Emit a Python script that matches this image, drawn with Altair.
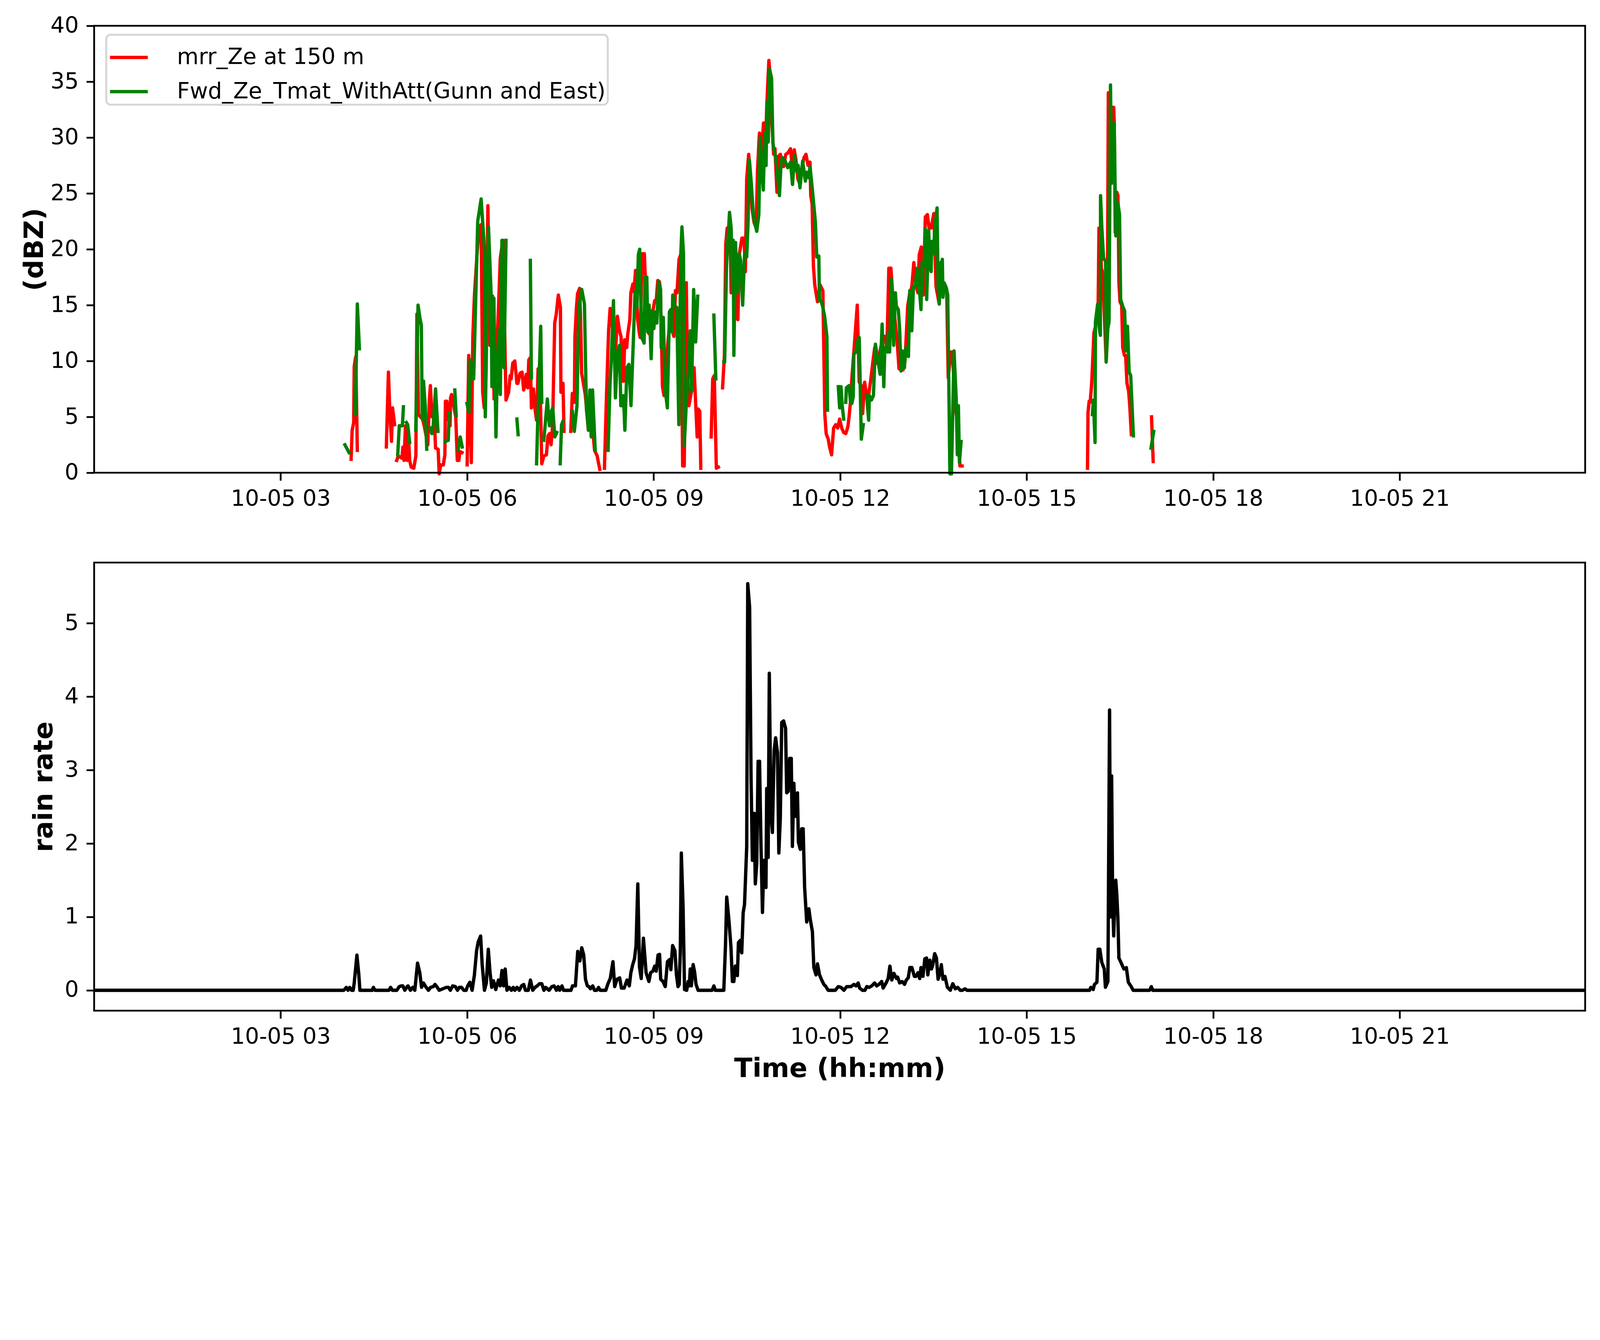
import altair as alt
import pandas as pd

# ---------------- data (minutes since 10-05 00:00) ----------------
series_names = ["mrr_Ze at 150 m", "Fwd_Ze_Tmat_WithAtt(Gunn and East)"]
series_colors = ["#ff0000", "#008000"]

tick_minutes = [180, 360, 540, 720, 900, 1080, 1260]
tick_labels = ["10-05 03", "10-05 06", "10-05 09", "10-05 12", "10-05 15", "10-05 18", "10-05 21"]

x_limits = [0, 1439]
ze_limits = [0, 40]
rain_limits = [-0.2775, 5.8275]
ze_ticks = [0, 5, 10, 15, 20, 25, 30, 35, 40]
rain_ticks = [0, 1, 2, 3, 4, 5]

mrr_minutes = [
    248, 249, 250.5, 251, 252.5, 254, None,
    282, 284, 285.5, 287, 288, 290, None,
    292, 293.5, 297, 298, 299, 300.5, 302, 303, 304.5, 306,
    308.5, 310.5, 311.5, 313, 315, 317, 319, 322, 323.5, 324.5,
    326, 328, 329.5, 332, 333, 334.5, 337, 338.5, 339, 340.5,
    342, 343.5, 344, 345, 347, 349, 350.5, 352, 353, 355, None,
    360, 361.5, 363, 364, 365.5, 367, 369.5, 371.5, 373.5, 375,
    376.5, 378, 380, 382, 384.5, 386, 388, 389.5, 392, 394.5,
    397.5, 400, 401.5, 402.5, 404, 406, 408, 409, 411, 413,
    414.5, 415.5, 417, 418.5, 419.5, 421, 422, 424, 425.5, 427,
    428.5, 430, 432, 434, 436.5, 438, 439.5, 441, 442.5, 444.5,
    446, 448, 450, 450.5, 452.5, 453.5, None,
    460, 461.5, 463.5, 464, 465.5, 466.5, 468.5, 469.5, 470.5, 472,
    474, 476, 477, 479, 481, 483, 485.5, 486.5, 488, None,
    492.5, 494.5, 496.5, 498, 499, 501, 503, 505, 507, 508.5,
    510, 511, 512, 514, 515, 517, 518, 520, 521, 522.5,
    524.5, 526, 527, 529, 531, 532.5, 534.5, 536, 537.5, 539.5,
    541, 542.5, 544, 545.5, 546.5, 547.5, 548.5, 550, 551, 552.5,
    554, 556, 558, 559.5, 561, 562.5, 564.5, 566, 568, 569.5,
    571.5, 572.5, 574, 577, 579, 582, 583, 584.5, 585.5, None,
    595.5, 597, 598.5, 600.5, 602.5, None,
    606.5, 608.3, 609.6, 611, 612.5, 614.2, 614.8, 616.8, 619.4, 621.3,
    622.6, 625.2, 627.2, 628.5, 629.8, 631.7, 633.7, 635, 636.9, 638.9,
    640.2, 642.1, 643.4, 646, 648, 649.3, 651.2, 652.5, 654, 655.8,
    657.1, 659, 660.3, 662.3, 664.2, 665.5, 667.5, 669.4, 672.1, 674,
    675.7, 677.3, 679.2, 681.2, 683.1, 685.1, 687, 689, 690.9, 691.6,
    692.9, 694.2, 695.5, 698.1, 700.7, 703.3, 705.2, 706.5, 708.5, 709.8,
    711.7, 713.7, 715.7, 717.6, 719.5, 721.5, 723.4, 725.4, 727.4, 728.6,
    730, 731.2, 733.2, 736.5, 738.4, 740.4, 741.7, 743.6, 745.6, 747.5,
    749.5, 751.4, 753.4, 755.3, 757.3, 759.2, 761.2, 763.1, 765.1, 767,
    769, 771, 772.9, 774.8, 776.8, 778.7, 780.7, 782.6, 785.2, 787.2,
    789.1, 791.1, 793.1, 795, 796.3, 798.3, 800.2, 802.2, 804.2, 805.8,
    807.8, 810.4, 812.5, 815.6, 817.1, 818.6, 820.2, 821.7, 822.8, 824.3,
    826.9, 828.4, 831, 832.5, 834.1, 835.6, 837.7, None,
    958.7, 959.2, 960.3, 961.3, 962.8, 964.9, 966.4, 969, 969.8, 971,
    972.1, 973.1, 975, 976.7, 977.8, 978.8, 980, 981.4, 982.9, 984,
    984.5, 985.5, 987, 988.1, 989.1, 990.1, 991.7, 992.7, 994.3, 995.5,
    996.8, 998.4, 999.5, 1001, None,
    1020.5, 1022.1,
]
mrr_dbz = [
    1.2, 3.8, 4.5, 9.5, 10.4, 2.0, None,
    2.3, 9.0, 5.2, 2.8, 5.8, 4.3, None,
    1.1, 1.5, 1.3, 2.3, 1.1, 4.2, 1.1, 4.0, 1.1, 0.5,
    0.4, 1.5, 14.2, 5.2, 5.0, 4.8, 4.0, 2.5, 6.5, 7.8,
    5.0, 5.5, 2.2, 2.1, -0.1, 0.7, 0.7, 1.6, 6.4, 6.4,
    4.7, 4.2, 6.7, 7.0, 6.0, 5.0, 1.1, 1.1, 1.9, 1.8, None,
    0.7, 10.5, 4.3, 0.9, 12.2, 15.8, 19.5, 22.0, 22.2, 7.2,
    5.8, 7.9, 23.9, 11.4, 15.8, 6.6, 11.1, 12.9, 19.2, 20.8,
    6.5, 7.2, 8.7, 8.4, 9.8, 10.0, 8.0, 8.0, 8.9, 9.0,
    7.4, 7.7, 8.8, 7.6, 10.1, 10.3, 5.8, 7.5, 5.7, 4.7,
    9.3, 9.4, 0.8, 1.5, 1.6, 3.3, 3.5, 2.5, 4.3, 13.4,
    14.2, 15.9, 14.8, 7.2, 8.0, 3.7, None,
    3.7, 7.1, 6.3, 12.1, 14.8, 16.0, 16.5, 13.7, 8.9, 8.1,
    7.0, 5.0, 3.8, 6.5, 4.0, 2.0, 1.5, 1.0, 0.3, None,
    0.4, 7.0, 12.7, 14.7, 14.6, 12.0, 10.5, 14.0, 12.7, 12.2,
    8.2, 8.2, 11.9, 11.2, 12.4, 13.7, 16.1, 16.9, 16.2, 18.1,
    13.8, 12.6, 12.1, 19.6, 19.6, 16.1, 12.6, 12.4, 14.4, 14.6,
    15.4, 15.4, 17.2, 17.1, 16.4, 12.2, 7.7, 6.9, 9.4, 10.2,
    11.9, 13.9, 12.7, 12.2, 16.3, 16.1, 19.1, 19.5, 0.6, 0.6,
    17.0, 9.4, 6.0, 7.5, 9.4, 3.2, 5.7, 5.5, 0.4, None,
    3.2, 8.4, 8.7, 0.4, 0.5, None,
    7.6, 10.5, 20.5, 21.9, 21.5, 19.7, 16.1, 20.5, 13.9, 13.7,
    19.5, 21.0, 21.0, 18.0, 26.3, 28.5, 25.8, 23.6, 22.4, 21.9,
    27.0, 30.4, 27.3, 31.3, 29.5, 33.1, 36.9, 35.5, 31.5, 28.5,
    29.0, 25.1, 28.3, 28.5, 27.5, 27.4, 28.5, 28.6, 29.0, 27.0,
    28.9, 28.0, 26.3, 25.8, 27.3, 28.2, 28.5, 27.5, 27.8, 24.8,
    24.1, 18.5, 16.8, 15.3, 16.8, 16.3, 5.2, 3.5, 3.0, 2.3,
    1.6, 4.0, 4.3, 4.0, 4.8, 4.0, 3.6, 3.5, 4.1, 5.0,
    6.4, 8.3, 10.8, 15.0, 8.1, 7.8, 5.3, 8.1, 6.9, 7.0,
    8.3, 9.8, 11.2, 9.8, 10.3, 11.2, 12.2, 12.2, 11.2, 18.3,
    18.3, 15.5, 13.7, 12.0, 9.3, 10.8, 9.2, 10.0, 14.9, 16.1,
    16.6, 18.8, 16.8, 16.1, 19.5, 20.2, 15.9, 22.9, 23.1, 21.9,
    21.9, 23.2, 16.7, 15.1, 18.8, 16.9, 17.0, 16.7, 16.4, 8.5,
    10.8, 10.8, 5.8, 5.0, 3.4, 0.6, 0.6, None,
    0.4, 5.4, 6.4, 6.3, 8.1, 12.5, 13.1, 15.2, 21.9, 21.8,
    18.3, 18.0, 14.0, 10.1, 12.6, 34.0, 30.0, 26.3, 32.7, 32.7,
    31.4, 21.5, 25.1, 24.8, 16.9, 15.3, 15.0, 11.2, 10.5, 10.5,
    8.0, 7.3, 6.0, 3.4, None,
    5.0, 1.0,
]

fwd_minutes = [
    242, 246, None,
    252, 254, 256, None,
    293, 294.5, 297.5, 298.5, None,
    301.3, 302.6, 304.5, None,
    310.4, 312.6, 314.5, 315.8, 316.6, 317.9, 319.5, 321, None,
    324, 326, 327.3, 329.5, 331.8, None,
    339, 341.8, 342.6, None,
    348.1, 349.4, None,
    351.3, 353.3, 355.2, None,
    359.8, 361.7, 363, 365, 366.3, 370.2, 373.5, 376.7, 377.5, 380.6,
    383.2, 383.9, 385.8, 387.8, 389.1, 391, 392, 393.6, 395.6, 397.5, None,
    408, 409.2, None,
    421, 422, None,
    427, 428, 429.5, 431, 432, None,
    434, 435.5, 437.4, 439.4, 440.7, 442.6, 444.6, 446.5, None,
    449.8, 451.1, 452.4, None,
    461.5, 463.4, 466, 467.3, 468.6, 470.6, 473.2, 475.1, 477.1, 478.4,
    479.7, 481, 483.6, None,
    496, 497.9, 499.2, 501.2, 503.1, 505.1, 507, 508.3, 509.6, 510.9,
    512.2, 514.2, 516.1, 518.1, 520.7, 522, 523.9, 525.2, 526.5, 528.5,
    530.8, 531.7, 533.4, 534.3, 535.6, 537.6, 538.9, 540.2, 541.5, 543.1,
    544.7, 546.7, 547.3, 549.3, 551.2, 553.2, 555.2, 556.5, 557.8, 558.4,
    560.4, 562.3, 564.3, 566.2, 567.3, 568.8, 569.5, 571.4, 573.4, 575.3,
    576.6, 578.6, 580.5, 582.5, None,
    598.1, 600, None,
    607.7, 608.5, 610.3, 613.2, 614.8, 616.1, 616.8, 617.4, 619, 620.7,
    622.6, 623.9, 625.9, 627.8, 629.8, 631.1, 632.4, 634.3, 636.3, 639.5,
    641.5, 642.8, 644.5, 645.8, 647.3, 648.5, 649.3, 650.6, 651.9, 653.8,
    655.1, 655.8, 657.7, 659, 661.4, 663, 664.2, 666.9, 669.4, 672.1,
    674, 676, 678, 679.5, 681.2, 683.8, 686.4, 687.7, 689.6, 690.9,
    692.9, 696.1, 697.4, 699.4, 700, 701.5, 703.3, 705, 707.2, 707.8, None,
    718.2, 719.5, 720.8, 722, 723.4, None,
    725.4, 726, 728.6, 730, 731.3, 732.6, 733.2, 735.2, 736.5, 738.4,
    740.4, 742.3, None,
    745.6, 747.5, 748.2, 750.1, 752.1, 754, 756, 758.6, 760.5, 762.1,
    763.1, 765.7, 766.4, 767.7, 769.6, 771.6, 773.3, 774.2, 776.1, 777.4,
    778.7, 780, 782, 783.3, 785.9, 787.2, 789.1, 790.7, 792.4, 794.3,
    796.3, 798, 798.9, 800.9, 802.2, 803.5, 805.4, 806.7, 807.8, 808.3,
    809.9, 811.5, 813.5, 814.5, 815.6, 817.1, 818.6, 819.2, 820.7, 822.2,
    823.8, 824.8, 825.9, 827.4, 829.9, 832, 833.1, 834.1, 835.1, 836.7, None,
    963.4, 964.4, 966, 966.4, 968.5, 970, 971.1, 971.3, 972.5, 974.2,
    976.2, 976.7, 978.3, 979.5, 980.9, 981.9, 983.5, 984.5, 986, 988.1,
    989.6, 990.7, 992.7, 994.5, 995.8, 997.3, 998.9, 1000.4, 1003, None,
    1020, 1022.6,
]
fwd_dbz = [
    2.5, 1.8, None,
    5.2, 15.1, 11.1, None,
    1.6, 4.2, 4.2, 5.9, None,
    4.5, 4.3, 2.7, None,
    3.8, 15.0, 13.8, 13.2, 4.8, 8.2, 6.0, 2.1, None,
    4.0, 3.5, 4.3, 7.5, 3.7, None,
    2.8, 2.9, 5.3, None,
    7.4, 5.1, None,
    2.1, 3.2, 2.3, None,
    6.2, 5.4, 10.1, 8.4, 8.4, 22.5, 24.5, 20.0, 5.0, 22.0,
    15.8, 7.7, 15.6, 3.2, 9.4, 12.8, 7.0, 20.8, 9.4, 20.8, None,
    4.8, 3.4, None,
    19.0, 8.5, None,
    0.8, 4.3, 8.5, 13.1, 6.3, None,
    2.9, 4.5, 6.6, 4.2, 5.3, 5.8, 3.2, 3.6, None,
    0.8, 4.3, 4.6, None,
    5.5, 3.7, 6.0, 12.6, 15.2, 16.4, 15.1, 5.7, 3.8, 7.4,
    3.2, 7.4, 2.0, None,
    2.0, 8.0, 10.2, 15.4, 6.7, 10.7, 11.4, 6.0, 6.0, 6.9,
    3.8, 9.4, 9.7, 6.0, 12.6, 16.2, 14.8, 19.5, 20.0, 12.1,
    11.6, 17.5, 17.5, 12.6, 15.0, 10.2, 14.4, 12.9, 14.4, 13.4,
    17.1, 16.4, 11.2, 13.9, 7.4, 5.8, 14.4, 14.6, 12.6, 15.9,
    14.9, 14.8, 4.3, 19.6, 22.0, 19.6, 2.4, 6.0, 9.0, 12.7,
    7.3, 16.4, 11.7, 15.8, None,
    14.1, 8.4, None,
    9.9, 9.9, 18.5, 23.3, 21.9, 16.1, 20.8, 10.5, 20.6, 16.1,
    19.6, 19.0, 15.0, 19.6, 19.3, 22.4, 28.0, 25.8, 22.9, 21.6,
    23.1, 30.0, 27.0, 25.3, 30.4, 27.5, 33.2, 29.6, 36.1, 35.3,
    29.5, 29.1, 28.2, 27.2, 24.8, 27.8, 28.2, 27.9, 27.3, 27.8,
    25.8, 28.4, 27.0, 27.5, 25.5, 27.9, 26.1, 26.9, 26.4, 27.4,
    25.6, 22.4, 19.3, 19.4, 15.4, 15.4, 14.8, 14.0, 12.2, 5.6, None,
    7.7, 5.8, 7.7, 6.0, 4.8, None,
    6.3, 7.6, 7.8, 6.3, 6.2, 6.8, 10.6, 10.8, 11.7, 12.1,
    3.0, 4.3, None,
    6.9, 4.7, 6.9, 6.5, 6.9, 11.5, 10.3, 8.8, 13.3, 7.7,
    11.2, 10.8, 12.5, 10.8, 17.3, 11.4, 16.1, 14.9, 14.6, 12.9,
    9.1, 10.9, 9.4, 11.2, 10.4, 16.3, 12.7, 16.6, 16.6, 18.3,
    16.6, 14.6, 18.8, 18.5, 21.8, 15.5, 21.7, 18.5, 18.0, 20.7,
    19.6, 22.0, 23.7, 16.7, 15.1, 18.6, 19.1, 15.7, 16.9, 16.6,
    15.9, 8.5, -0.1, -0.1, 10.9, 6.6, 1.6, 6.0, 0.9, 2.8, None,
    5.2, 6.5, 2.7, 13.5, 15.1, 13.0, 12.3, 24.8, 22.0, 19.2,
    18.9, 9.9, 12.9, 13.5, 34.7, 25.9, 31.0, 31.3, 21.2, 24.1,
    23.1, 15.5, 14.9, 14.5, 10.9, 13.1, 9.0, 8.7, 3.3, None,
    2.2, 3.7,
]

rain_minutes = [
    0, 241, 243.4, 245, 246.7, 248.4, 250, 251, 253.6, 255.4,
    256.5, 268.4, 269.5, 271, 284.6, 286.1, 287.9, 292.2, 294.4, 296.5,
    298, 299.8, 302, 303, 305.2, 307.4, 309.5, 312.1, 314.3, 316,
    317.8, 320, 322.6, 324.7, 327.3, 329, 331.2, 333, 339.9, 342,
    343.8, 346, 348.6, 350.7, 352.4, 354.6, 356.8, 359, 360.5, 362.6,
    364.8, 367, 369.1, 370.7, 373, 374.5, 376.7, 378.5, 380.4, 382.1,
    383.7, 385.4, 387.6, 390.2, 391.9, 393.6, 395.1, 396.7, 398.4, 400.6,
    402.7, 404.5, 406, 408.1, 410.3, 412.5, 414.6, 416.2, 419, 421.1,
    423.3, 425.5, 427.6, 429.8, 432, 434.1, 435.7, 437.4, 439.1, 441.7,
    443.9, 446.1, 447.8, 449.3, 451.5, 453, 460.2, 461.7, 464.5, 466.7,
    468.8, 470.6, 472.5, 474.2, 476, 477.5, 479, 481.2, 482.9, 485.1,
    486.8, 488.3, 493.8, 495.9, 498.1, 500.7, 502.4, 504.6, 507.2, 508.9,
    511.5, 514.3, 516.5, 518, 519.8, 521.5, 523, 524.7, 526.3, 528,
    530.1, 532.7, 535.4, 537.1, 539.2, 541, 542.5, 544.2, 545.7, 546.8,
    549, 551.2, 553.3, 555.5, 556.6, 558.3, 560.5, 562, 563.5, 564.7,
    565.7, 566.7, 568.4, 569.8, 571.9, 573.3, 574.4, 575.3, 576.4, 578.1,
    579.5, 580.9, 582.9, 596.5, 598.1, 599.5, 607.7, 609.4, 610.5, 612.6,
    614.6, 616, 617.4, 618.8, 620.8, 621.8, 623.6, 625, 626.4, 627.7,
    629.8, 630.8, 632.6, 634, 635.3, 637, 638.1, 639.5, 640.8, 642.2,
    643.6, 645, 646.4, 648.4, 649.1, 650.5, 651.6, 653.2, 654.6, 656.3,
    657.7, 659.5, 660.8, 662.2, 663.6, 665.4, 667.3, 668.4, 669.8, 671.2,
    672.8, 673.9, 675.3, 676.7, 678.8, 679.7, 681.5, 682.9, 684.3, 685.7,
    687.7, 689.8, 691.2, 693.2, 694.6, 696.7, 698.1, 700.1, 702.2, 704.3,
    706.3, 708.4, 715.3, 718.1, 720.8, 723.6, 726.3, 730.5, 733.2, 735.3,
    737.4, 738.8, 741.5, 744, 745.6, 748, 750.5, 753.2, 755.3, 757.4,
    760.1, 761.5, 764.3, 766.3, 768, 769.8, 771.9, 774.4, 775.5, 777.4,
    779.7, 782.1, 783.8, 785.7, 787.3, 789.2, 791.6, 793.2, 795.1, 796.8,
    798, 799.9, 801.7, 803.4, 804.6, 806.5, 808.1, 809.3, 811.2, 812.9,
    814.5, 816.4, 817.6, 819.2, 821.1, 823.5, 826.3, 828.7, 831.1, 833.4,
    835.8, 838, 840.5, 842.4, 960.7, 961.9, 964.2, 965.4, 967.8, 969,
    970.6, 972.5, 974.9, 976, 978.4, 980, 981, 982, 983, 984,
    985, 986, 987, 988, 989, 991, 993.8, 996.2, 998.1, 1000.9,
    1002.8, 1018.6, 1020.3, 1021.7, 1439,
]
rain_rate = [
    0, 0, 0.04, 0, 0.04, 0, 0, 0.1, 0.48, 0.22,
    0, 0, 0.04, 0, 0, 0.04, 0, 0, 0.05, 0.06,
    0.06, 0, 0.05, 0.06, 0, 0.04, 0, 0.37, 0.24, 0.04,
    0.1, 0.05, 0, 0.04, 0.05, 0.08, 0.04, 0, 0.04, 0.04,
    0, 0.06, 0.05, 0, 0.04, 0.04, 0, 0, 0.06, 0.11,
    0, 0.21, 0.54, 0.66, 0.74, 0.35, 0, 0.1, 0.56, 0.24,
    0.04, 0.13, 0.01, 0.14, 0.06, 0.27, 0.06, 0.29, 0, 0.04,
    0, 0.04, 0, 0.04, 0, 0.06, 0.08, 0, 0, 0.14,
    0, 0.04, 0.06, 0.09, 0.09, 0, 0.04, 0.02, 0, 0.05,
    0.06, 0, 0.05, 0, 0.06, 0, 0, 0.06, 0.06, 0.53,
    0.4, 0.58, 0.48, 0.15, 0.06, 0.05, 0.02, 0.06, 0, 0,
    0.04, 0, 0, 0.09, 0.16, 0.39, 0.05, 0.15, 0.17, 0.03,
    0.03, 0.14, 0.06, 0.24, 0.35, 0.43, 0.61, 1.45, 0.32, 0.16,
    0.71, 0.24, 0.12, 0.24, 0.26, 0.33, 0.26, 0.48, 0.49, 0.15,
    0.12, 0.05, 0.39, 0.42, 0.28, 0.61, 0.54, 0.21, 0.05, 0.08,
    0.53, 1.87, 1.13, 0.01, 0, 0.12, 0.06, 0.29, 0.06, 0.35,
    0.25, 0.08, 0, 0, 0.06, 0, 0, 0.65, 1.27, 0.96,
    0.59, 0.12, 0.12, 0.33, 0.2, 0.65, 0.68, 0.51, 1.06, 1.17,
    1.96, 5.54, 5.22, 2.9, 1.77, 2.41, 1.45, 1.73, 3.12, 3.12,
    1.96, 1.06, 1.77, 1.4, 2.75, 1.81, 4.32, 2.41, 2.15, 3.27,
    3.44, 3.24, 1.87, 2.33, 3.65, 3.67, 3.57, 2.69, 2.71, 3.16,
    3.16, 1.96, 2.82, 2.37, 2.69, 2.02, 1.92, 2.2, 2.2, 1.4,
    0.93, 1.11, 0.96, 0.8, 0.31, 0.21, 0.36, 0.21, 0.14, 0.08,
    0.05, 0, 0, 0.05, 0.04, 0, 0.05, 0.05, 0.08, 0.06,
    0.1, 0.03, 0, 0, 0.05, 0.04, 0.06, 0.1, 0.06, 0.08,
    0.12, 0.03, 0.1, 0.16, 0.33, 0.14, 0.23, 0.16, 0.18, 0.1,
    0.12, 0.08, 0.14, 0.17, 0.31, 0.31, 0.19, 0.19, 0.24, 0.16,
    0.31, 0.19, 0.43, 0.44, 0.21, 0.41, 0.29, 0.34, 0.5, 0.44,
    0.15, 0.24, 0.35, 0.15, 0.19, 0.04, 0, 0.09, 0.02, 0.04,
    0, 0, 0.02, 0, 0, 0.04, 0.01, 0.08, 0.11, 0.56,
    0.56, 0.38, 0.29, 0.04, 0.12, 3.82, 1.0, 2.92, 1.2, 0.74,
    1.2, 1.5, 1.3, 1.0, 0.44, 0.38, 0.29, 0.31, 0.11, 0.05,
    0, 0, 0.05, 0, 0,
]

assert len(mrr_minutes) == len(mrr_dbz)
assert len(fwd_minutes) == len(fwd_dbz)
assert len(rain_minutes) == len(rain_rate)


def segmented(minutes, values, name):
    rows, seg = [], 0
    for m, v in zip(minutes, values):
        if m is None or v is None:
            seg += 1
            continue
        rows.append({"minute": m, "value": v, "seg": f"{name}-{seg}", "series": name})
    return pd.DataFrame(rows)


df_mrr = segmented(mrr_minutes, mrr_dbz, series_names[0])
df_fwd = segmented(fwd_minutes, fwd_dbz, series_names[1])
df_rain = pd.DataFrame({"minute": rain_minutes, "rate": rain_rate})
df_frame_top = pd.DataFrame({"x0": [x_limits[0]], "x1": [x_limits[1]],
                             "y0": [ze_limits[0]], "y1": [ze_limits[1]]})
df_frame_bot = pd.DataFrame({"x0": [x_limits[0]], "x1": [x_limits[1]],
                             "y0": [rain_limits[0]], "y1": [rain_limits[1]]})

# ---------------- styling / layout (CSS px; page is 4096 CSS px wide) ----------------
S = 4096 / 4995
PT = 500 / 72 * S
FONT = "DejaVu Sans"
LW = 1.5 * PT
AXW = 0.8 * PT
TICK = 3.5 * PT
LFS = 10 * PT
TFS = 12 * PT
W = round(4655 * S)
H_TOP = round(1395 * S)
GAP = round(280 * S)
H_BOT = round(1399 * S)
H_ALL = H_TOP + GAP + H_BOT

label_expr = " : ".join(
    f"datum.value == {m} ? '{l}'" for m, l in zip(tick_minutes, tick_labels)
) + " : ''"

common_axis = dict(
    grid=False, domain=False, tickSize=TICK, tickWidth=AXW, tickColor="black",
    labelFont=FONT, labelFontSize=LFS, labelColor="black", labelPadding=TICK,
    labelFlush=False, labelOverlap=False, labelLimit=2000,
    titleFont=FONT, titleFontSize=TFS, titleFontWeight="bold", titleColor="black",
)

x_scale = alt.Scale(domain=x_limits, nice=False, zero=False)
y_top_scale = alt.Scale(domain=ze_limits, range=[H_TOP, 0], nice=False, zero=False)
y_bot_scale = alt.Scale(domain=rain_limits, range=[H_ALL, H_ALL - H_BOT], nice=False, zero=False)

x_axis_top = alt.Axis(values=tick_minutes, labelExpr=label_expr, title=None, orient="bottom",
                      offset=-(H_ALL - H_TOP), **common_axis)
x_axis_bot = alt.Axis(values=tick_minutes, labelExpr=label_expr, title="Time (hh:mm)",
                      orient="bottom", titlePadding=20, **common_axis)
y_axis_top = alt.Axis(values=ze_ticks, title="(dBZ)", orient="left", titlePadding=5, **common_axis)
y_axis_bot = alt.Axis(values=rain_ticks, title="rain rate", orient="left", titlePadding=17,
                      **common_axis)

legend = alt.Legend(
    title=None, orient="none", legendX=31, legendY=23, symbolType="stroke",
    symbolStrokeWidth=LW, symbolSize=(118 * S) ** 2, labelFont=FONT, labelFontSize=LFS,
    labelColor="black", labelLimit=3000, labelOffset=70, fillColor="white",
    strokeColor="#d6d6d6", cornerRadius=11, padding=5,
)
color_scale = alt.Scale(domain=series_names, range=series_colors)


def ze_layer(df):
    return alt.Chart(df).mark_line(
        strokeWidth=LW, strokeJoin="round", strokeCap="square"
    ).encode(
        x=alt.X("minute:Q", scale=x_scale, axis=x_axis_top),
        y=alt.Y("value:Q", scale=y_top_scale, axis=y_axis_top),
        detail="seg:N",
        color=alt.Color("series:N", scale=color_scale, legend=legend),
    )


frame_top = alt.Chart(df_frame_top).mark_rect(
    fillOpacity=0, stroke="black", strokeWidth=AXW
).encode(
    x=alt.X("x0:Q", scale=x_scale, axis=x_axis_top), x2="x1:Q",
    y=alt.Y("y0:Q", scale=y_top_scale, axis=y_axis_top), y2="y1:Q",
)

top = alt.layer(ze_layer(df_mrr), ze_layer(df_fwd), frame_top)

rain_line = alt.Chart(df_rain).mark_line(
    strokeWidth=LW, color="black", strokeJoin="round"
).encode(
    x=alt.X("minute:Q", scale=x_scale, axis=x_axis_bot),
    y=alt.Y("rate:Q", scale=y_bot_scale, axis=y_axis_bot),
)

frame_bot = alt.Chart(df_frame_bot).mark_rect(
    fillOpacity=0, stroke="black", strokeWidth=AXW
).encode(
    x=alt.X("x0:Q", scale=x_scale, axis=x_axis_bot), x2="x1:Q",
    y=alt.Y("y0:Q", scale=y_bot_scale, axis=y_axis_bot), y2="y1:Q",
)

bottom = alt.layer(rain_line, frame_bot)

chart = alt.layer(top, bottom).resolve_scale(
    x="independent", y="independent"
).properties(
    width=W, height=H_ALL,
    padding={"left": 46, "top": 29, "right": 5, "bottom": 5},
    background="white",
).configure_view(
    strokeWidth=0
).configure_legend(
    strokeWidth=5, rowPadding=6.6
)

chart.save("out.html", embed_options={"renderer": "svg", "actions": False})
